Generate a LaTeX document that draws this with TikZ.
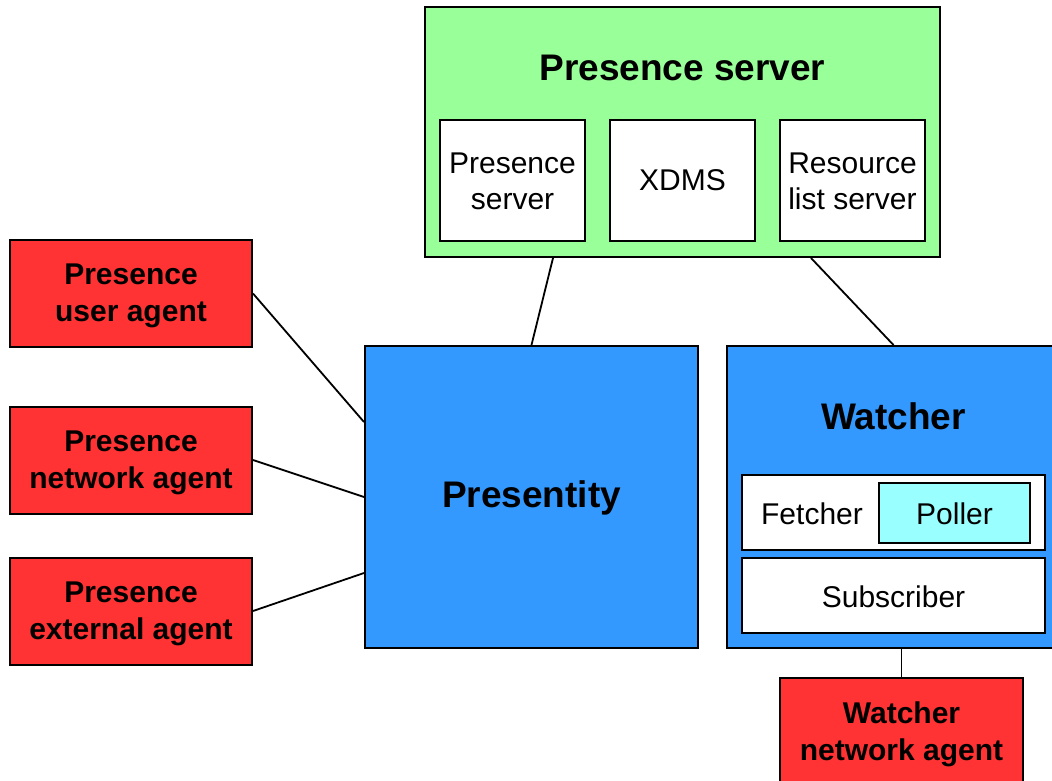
\documentclass[tikz,border=0pt]{standalone}
\usepackage{fontspec}
\setmainfont{Liberation Sans}
\definecolor{srvgreen}{HTML}{99FF99}
\definecolor{entblue}{HTML}{3399FF}
\definecolor{agentred}{HTML}{FF3333}
\definecolor{pollcyan}{HTML}{99FFFF}
\tikzset{
  box/.style={draw=black, line width=2pt, rectangle, inner sep=0pt, align=center,
    font=\fontsize{30}{36}\selectfont},
  inner/.style={box, fill=white},
  agent/.style={box, fill=agentred, minimum width=242pt, minimum height=107pt},
  agenttext/.style={inner sep=0pt, align=center, font=\fontsize{30}{37}\selectfont\bfseries},
  heading/.style={inner sep=0pt, font=\fontsize{37}{44}\selectfont\bfseries},
  label/.style={inner sep=0pt, align=center, font=\fontsize{30}{36}\selectfont},
  link/.style={draw=black, line width=1.8pt}
}
\begin{document}
\begin{tikzpicture}[x=1pt,y=-1pt]
\useasboundingbox (0,0) rectangle (1052,780);
\clip (0,0) rectangle (1052,780);

% presence server group
\node[box, fill=srvgreen, minimum width=515pt, minimum height=250pt] (ps) at (682.5,132) {};
\node[heading] (pstitle) at (682.5,68) {Presence server};
\node[inner, minimum width=145pt, minimum height=121pt] (psrv) at (512.5,180.5) {};
\node[label] (psrvtxt) at (512.5,181.5) {Presence\\server};
\node[inner, minimum width=145pt, minimum height=121pt] (xdms) at (682.5,180.5) {XDMS};
\node[inner, minimum width=145pt, minimum height=121pt] (rls) at (852.5,180.5) {};
\node[label] (rlstxt) at (852.5,181.5) {Resource\\list server};

% presentity
\node[box, fill=entblue, minimum width=333pt, minimum height=302pt] (pres) at (531.5,497) {};
\node[heading] (prestxt) at (531.5,498) {Presentity};

% watcher group
\node[box, fill=entblue, minimum width=333pt, minimum height=302pt] (watch) at (893.5,497) {};
\node[heading] (wtitle) at (893.5,416) {Watcher};
\node[inner, minimum width=303pt, minimum height=75pt] (fetch) at (893.5,512.5) {};
\node[label] (fetchtxt) at (812,514) {Fetcher};
\node[box, fill=pollcyan, minimum width=151pt, minimum height=60pt] (poll) at (954.5,513) {};
\node[label] (polltxt) at (954.5,514) {Poller};
\node[inner, minimum width=303pt, minimum height=75pt] (subs) at (893.5,595.5) {};
\node[label] (substxt) at (893.5,597) {Subscriber};

% agents
\node[agent] (pua) at (131,293.5) {};
\node[agenttext] (puatxt) at (131,296) {Presence\\user agent};
\node[agent] (pna) at (131,460) {};
\node[agenttext] (pnatxt) at (131,462.5) {Presence\\network agent};
\node[agent] (pea) at (131,611) {};
\node[agenttext] (peatxt) at (131,613.5) {Presence\\external agent};
\node[agent, minimum width=243pt, minimum height=106pt] (wna) at (901.5,731) {};
\node[agenttext] (wnatxt) at (901.5,734.5) {Watcher\\network agent};

% connections
\draw[link] (pua.east) -- ([yshift=75pt]pres.west);
\draw[link] (pna.east) -- (pres.west);
\draw[link] (pea.east) -- ([yshift=-76pt]pres.west);
\draw[link] (pres.north) -- ([xshift=-129.5pt]ps.south);
\draw[link] (watch.north) -- ([xshift=128.5pt]ps.south);
\draw[link] (wna.north) -- (wna.north |- watch.south);
\end{tikzpicture}
\end{document}
